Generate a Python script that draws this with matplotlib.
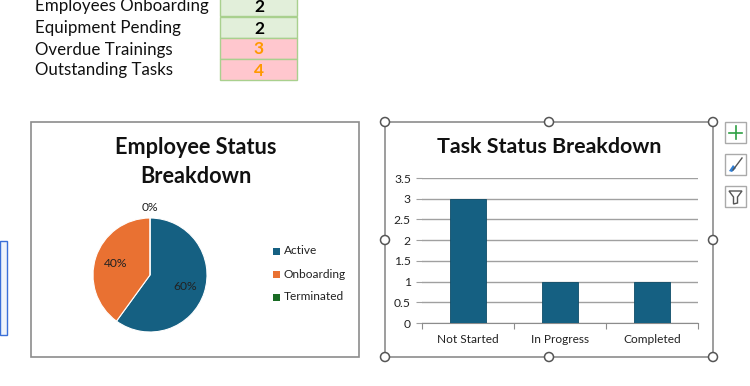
import matplotlib
matplotlib.use("Agg")
import matplotlib.pyplot as plt
from matplotlib.patches import Rectangle, Ellipse, Polygon
from matplotlib.lines import Line2D

# summary table
table_labels = ["Employees Onboarding", "Equipment Pending", "Overdue Trainings", "Outstanding Tasks"]
table_values = [2, 2, 3, 4]
table_alert = [False, False, True, True]

# pie data
status_labels = ["Active", "Onboarding", "Terminated"]
status_counts = [3, 2, 0]
status_colors = ["#156082", "#E97132", "#196B24"]

# bar data
task_labels = ["Not Started", "In Progress", "Completed"]
task_counts = [3, 1, 1]

W, H = 750, 386
plt.rcParams['font.family'] = ['Lato', 'DejaVu Sans']

fig = plt.figure(figsize=(W / 100, H / 100), dpi=100)
fig.patch.set_facecolor("white")


def fx(x):
    return x / W


def fy(y):
    return 1 - y / H


def box(x0, y0, x1, y1):
    return [fx(x0), fy(y1), fx(x1) - fx(x0), fy(y0) - fy(y1)]


# ---- table at the top
row_tops = [-5, 17, 38, 59]
row_h = 21
for i, (lab, val, alert) in enumerate(zip(table_labels, table_values, table_alert)):
    top = row_tops[i]
    cy = top + row_h / 2 + 1
    fig.text(fx(35), fy(cy), lab, fontsize=12.2, va="center", ha="left", color="#111111")
    fill = "#FFC7CE" if alert else "#E2EFDA"
    fig.patches.append(Rectangle((fx(220), fy(top + row_h)), fx(297) - fx(220), row_h / H,
                                 transform=fig.transFigure, facecolor=fill,
                                 edgecolor="#A9D08E", linewidth=1))
    fig.text(fx(259), fy(cy), str(val), fontsize=12.5, fontweight="bold", va="center", ha="center",
             color="#FF9900" if alert else "#000000")

# ---- chart frames (behind the axes)
fig.patches.append(Rectangle((fx(31), fy(357)), fx(359) - fx(31), fy(122) - fy(357),
                             transform=fig.transFigure, facecolor="white",
                             edgecolor="#8C8C8C", linewidth=1.2, zorder=-1))
fig.patches.append(Rectangle((fx(385), fy(357)), fx(713) - fx(385), fy(122) - fy(357),
                             transform=fig.transFigure, facecolor="white",
                             edgecolor="#8C8C8C", linewidth=1.2, zorder=-1))

# ---- pie chart
fig.text(fx(196), fy(162), "Employee Status\nBreakdown", fontsize=15.6, fontweight="bold",
         ha="center", va="center", linespacing=1.45, color="#111111")
ax_pie = fig.add_axes(box(93, 218, 207, 332))
wedges, texts, autotexts = ax_pie.pie(status_counts, colors=status_colors, startangle=90,
                                      counterclock=False, autopct="%1.0f%%", pctdistance=0.64,
                                      wedgeprops=dict(edgecolor="white", linewidth=0.8),
                                      textprops=dict(fontsize=8.7, color="#222222"))
for w, t in zip(wedges, autotexts):
    if w.theta2 - w.theta1 < 1e-6:
        t.set_position((0, 1.18))
ax_pie.set_xlim(-1, 1)
ax_pie.set_ylim(-1, 1)
ax_pie.set_aspect("equal")
ax_pie.axis("off")

leg_y = [251, 274, 297]
for lab, col, y in zip(status_labels, status_colors, leg_y):
    fig.patches.append(Rectangle((fx(273), fy(y + 3.5)), 7 / W, 7 / H, transform=fig.transFigure,
                                 facecolor=col, edgecolor="none"))
    fig.text(fx(284), fy(y), lab, fontsize=8.6, va="center", ha="left", color="#222222")

# ---- bar chart
fig.text(fx(549), fy(147), "Task Status Breakdown", fontsize=15.4, fontweight="bold",
         ha="center", va="center", color="#111111")
ax = fig.add_axes(box(422, 178, 698, 323))
x = range(len(task_labels))
ax.bar(x, task_counts, width=0.4, color="#156082", edgecolor="#0E4C68", linewidth=0.6, zorder=3)
ax.set_xlim(-0.5, len(task_labels) - 0.5)
ax.set_ylim(0, 3.5)
ax.set_yticks([i * 0.5 for i in range(8)])
ax.set_yticklabels(["0", "0.5", "1", "1.5", "2", "2.5", "3", "3.5"], fontsize=8.7, color="#222222")
ax.yaxis.grid(True, color="#A0A0A0", linewidth=1, zorder=0)
ax.set_xticks([-0.5, 0.5, 1.5, 2.5])
ax.set_xticklabels([])
ax.set_xticks(list(x), minor=True)
ax.set_xticklabels(task_labels, minor=True, fontsize=8.6, color="#222222")
ax.tick_params(axis="x", which="major", length=4, color="#8C8C8C", direction="out")
ax.tick_params(axis="x", which="minor", length=0, pad=8)
ax.tick_params(axis="y", length=4, color="#A0A0A0", pad=4)
for s in ["top", "right", "left"]:
    ax.spines[s].set_visible(False)
ax.spines["bottom"].set_color("#8C8C8C")
ax.set_facecolor("none")

# selection handles
for hx in [385, 549, 713]:
    for hy in [122, 240, 357]:
        if hx == 549 and hy == 240:
            continue
        fig.patches.append(Ellipse((fx(hx), fy(hy)), 9 / W, 9 / H, transform=fig.transFigure,
                                   facecolor="white", edgecolor="#555555", linewidth=1.1, zorder=5))

# side buttons
for top in [122, 154, 186]:
    fig.patches.append(Rectangle((fx(725), fy(top + 21)), 21 / W, 21 / H, transform=fig.transFigure,
                                 facecolor="white", edgecolor="#AAAAAA", linewidth=1))
fig.lines.append(Line2D([fx(729), fx(742)], [fy(132.5), fy(132.5)], transform=fig.transFigure,
                        color="#2EA043", linewidth=1.2))
fig.lines.append(Line2D([fx(735.5), fx(735.5)], [fy(126), fy(139)], transform=fig.transFigure,
                        color="#2EA043", linewidth=1.2))
fig.lines.append(Line2D([fx(733), fx(742)], [fy(170), fy(158)], transform=fig.transFigure,
                        color="#555555", linewidth=1))
fig.patches.append(Polygon([(fx(729), fy(171)), (fx(733), fy(165)), (fx(736), fy(168)), (fx(732), fy(172))],
                           closed=True, transform=fig.transFigure, facecolor="#2F7FD6", edgecolor="none"))
fig.patches.append(Polygon([(fx(729), fy(191)), (fx(742), fy(191)), (fx(737.5), fy(197)),
                            (fx(737.5), fy(203)), (fx(733.5), fy(204)), (fx(733.5), fy(197))],
                           closed=True, transform=fig.transFigure, facecolor="white",
                           edgecolor="#555555", linewidth=1))

# selected cell range on the far left
fig.patches.append(Rectangle((fx(0), fy(335)), 7 / W, (335 - 241) / H, transform=fig.transFigure,
                             facecolor="#EEF3FB", edgecolor="#3A6FD8", linewidth=1))

fig.savefig("out.png", dpi=100, facecolor="white")
